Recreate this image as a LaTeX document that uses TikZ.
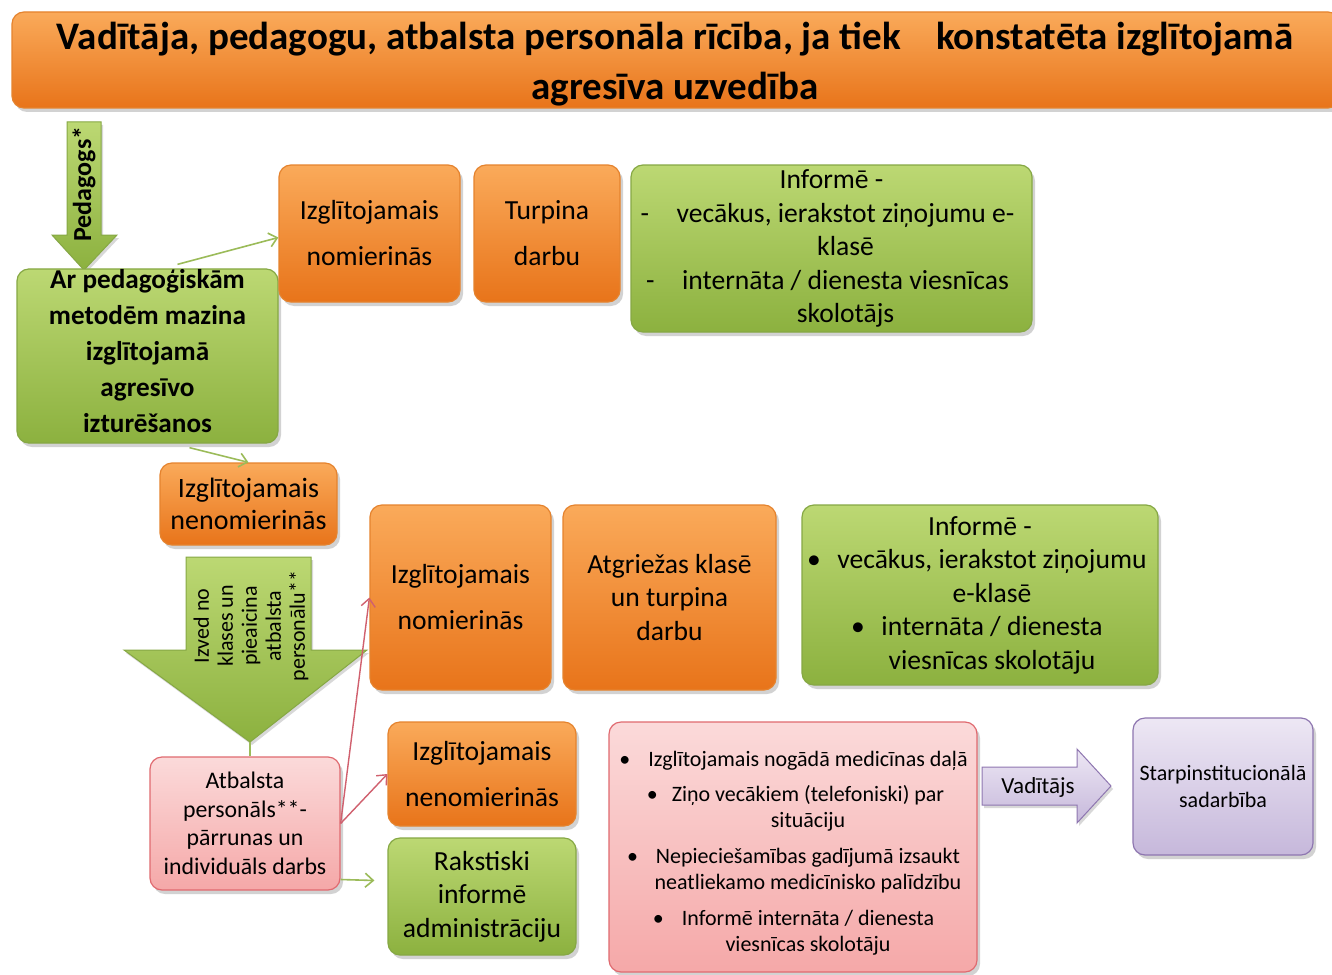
\documentclass[tikz,border=0pt]{standalone}
\usepackage{fontspec}
\setmainfont{Carlito}
\usetikzlibrary{arrows.meta,shadows,calc}
\definecolor{ortop}{HTML}{FAAA5A}
\definecolor{orbot}{HTML}{E8741A}
\definecolor{ordraw}{HTML}{E5832E}
\definecolor{grtop}{HTML}{BCD873}
\definecolor{grbot}{HTML}{8CB13F}
\definecolor{grdraw}{HTML}{86A844}
\definecolor{pktop}{HTML}{FBDADA}
\definecolor{pkbot}{HTML}{F5A8A8}
\definecolor{pkdraw}{HTML}{E06A70}
\definecolor{putop}{HTML}{EDE7F4}
\definecolor{pubot}{HTML}{C6B8DB}
\definecolor{pudraw}{HTML}{8E76B0}
\definecolor{glinkc}{HTML}{9BBB59}
\definecolor{plinkc}{HTML}{D0606E}
\tikzset{
  basebox/.style={rounded corners=6pt, align=center, inner sep=0pt, line width=0.6pt,
    drop shadow={opacity=0.35, shadow xshift=1.5pt, shadow yshift=-2pt}},
  orangebox/.style={basebox, draw=ordraw, top color=ortop, bottom color=orbot},
  greenbox/.style={basebox, draw=grdraw, top color=grtop, bottom color=grbot},
  pinkbox/.style={basebox, draw=pkdraw, top color=pktop, bottom color=pkbot},
  purplebox/.style={basebox, draw=pudraw, top color=putop, bottom color=pubot},
  greenarrow/.style={draw=grdraw, line width=0.5pt, top color=grtop, bottom color=grbot,
    drop shadow={opacity=0.3, shadow xshift=1pt, shadow yshift=-1.5pt}},
  purplearrow/.style={draw=pudraw, line width=0.5pt, top color=putop, bottom color=pubot,
    drop shadow={opacity=0.3, shadow xshift=1pt, shadow yshift=-1.5pt}},
  glink/.style={draw=glinkc, line width=0.8pt, -{Straight Barb[length=4pt,width=7pt]}},
  glinkplain/.style={draw=glinkc, line width=0.8pt},
  plink/.style={draw=plinkc, line width=0.7pt, -{Straight Barb[length=4pt,width=7pt]}},
  fbig/.style={font=\fontsize{13.8}{23}\selectfont},
  fmid/.style={font=\fontsize{13.8}{16.75}\selectfont},
  fsmall/.style={font=\fontsize{11}{13}\selectfont},
}
\begin{document}
\begin{tikzpicture}[x=0.5pt,y=-0.5pt]
\useasboundingbox (0,0) rectangle (1332,974);
\fill[white] (0,0) rectangle (1332,974);
\clip (0,0) rectangle (1332,974);

% title
\node[orangebox, minimum width=664pt, minimum height=48pt] (title) at (676,60) {};
\node[align=center, inner sep=0pt, font=\fontsize{19.5}{25}\selectfont\bfseries] (titletext) at (675,64)
  {Vadītāja, pedagogu, atbalsta personāla rīcība, ja tiek\hspace{0.9em}konstatēta izglītojamā\\agresīva uzvedība};

% Pedagogs arrow
\path[greenarrow] (67,122) -- (101,122) -- (101,235) -- (117,235) -- (84,270) -- (52,235) -- (67,235) -- cycle;
\node[rotate=90, font=\fontsize{13}{15}\selectfont\bfseries] (pedtxt) at (84,184) {Pedagogs*};

% green main box
\node[greenbox, minimum width=130.5pt, minimum height=84pt,
  font=\fontsize{13.6}{18}\selectfont\bfseries] (gbox) at (147.5,356)
  {Ar pedagoģiskām\\metodēm mazina\\izglītojamā\\agresīvo\\izturēšanos\\[-12.5pt]\mbox{}};

% top row
\node[orangebox, fbig, minimum width=90.5pt, minimum height=68.5pt] (o1) at (369.5,233.5) {Izglītojamais\\nomierinās};
\node[orangebox, fbig, minimum width=73pt, minimum height=68.5pt] (t1) at (547,233.5) {Turpina\\darbu};
\node[greenbox, fmid, minimum width=200.5pt, minimum height=83.5pt] (i1) at (831.5,248.5)
  {Informē -\\
   \hspace*{14pt}\llap{-\hspace{1em}}vecākus, ierakstot ziņojumu e-\\
   \hspace*{14pt}klasē\\
   \hspace*{14pt}\llap{-\hspace{1em}}internāta / dienesta viesnīcas\\
   \hspace*{14pt}skolotājs};

% nenomierinas
\node[orangebox, font=\fontsize{14}{16}\selectfont, minimum width=88.5pt, minimum height=41pt] (o2) at (248.5,504) {Izglītojamais\\nenomierinās};

% big arrow
\path[greenarrow] (186,557) -- (311,557) -- (311,650) -- (367,650) -- (250,742) -- (124,650) -- (186,650) -- cycle;
\coordinate (tip) at (250,742);
\node[rotate=90, align=center, font=\fontsize{11}{12}\selectfont] (bigtxt) at (251,626)
  {Izved no\\klases un\\pieaicina\\atbalsta\\personālu**};

% middle row
\node[orangebox, fbig, minimum width=90.5pt, minimum height=92.5pt] (o3) at (460.5,597.5) {Izglītojamais\\nomierinās};
\node[orangebox, fmid, minimum width=106.5pt, minimum height=92.5pt] (o5) at (669.5,597.5) {Atgriežas klasē\\un turpina\\darbu};
\node[greenbox, fmid, minimum width=178pt, minimum height=90pt] (i2) at (980,595)
  {Informē -\\
   \hspace*{12pt}\llap{•\hspace{0.6em}}vecākus, ierakstot ziņojumu\\
   \hspace*{12pt}e-klasē\\
   \hspace*{12pt}\llap{•\hspace{0.6em}}internāta / dienesta\\
   \hspace*{12pt}viesnīcas skolotāju};

% support staff box
\node[pinkbox, font=\fontsize{11.9}{14.25}\selectfont, minimum width=95pt, minimum height=66.5pt] (pb) at (245,823.5)
  {Atbalsta\\personāls**-\\pārrunas un\\individuāls darbs};

% bottom middle
\node[orangebox, fbig, minimum width=94pt, minimum height=52pt] (o4) at (482,774) {Izglītojamais\\nenomierinās};
\node[greenbox, fmid, minimum width=94pt, minimum height=58.5pt] (g3) at (482,896.5) {Rakstiski\\informē\\administrāciju};

% pink big box
\node[pinkbox, minimum width=184pt, minimum height=125pt] (pk) at (793,847) {};
\node[fsmall, align=center, inner sep=0pt] (pktext) at (808,853)
  {\llap{•\hspace{9pt}}Izglītojamais nogādā medicīnas daļā\\[4.5pt]
   \llap{•\hspace{7pt}}Ziņo vecākiem (telefoniski) par\\
   situāciju\\[5pt]
   \llap{•\hspace{9pt}}Nepieciešamības gadījumā izsaukt\\
   neatliekamo medicīnisko palīdzību\\[5pt]
   \llap{•\hspace{9pt}}Informē internāta / dienesta\\
   viesnīcas skolotāju};

% Vaditajs arrow
\path[purplearrow] (982,767) -- (1077,767) -- (1077,749) -- (1111,786) -- (1077,823) -- (1077,805) -- (982,805) -- cycle;
\node[font=\fontsize{11.5}{13}\selectfont] (vadtxt) at (1038,787) {Vadītājs};

% purple box
\node[purplebox, font=\fontsize{11}{13.5}\selectfont, minimum width=90pt, minimum height=68.5pt] (pu) at (1223,786.5)
  {Starpinstitucionālā\\sadarbība};

% connectors
\draw[glink] ([xshift=15pt,yshift=2pt]gbox.north) -- ([yshift=-2pt]o1.west);
\draw[glink] ([xshift=21pt,yshift=-2pt]gbox.south) -- (o2.north);
\draw[glinkplain] (tip) -- (tip |- pb.north);
\draw[plink] (pb.east) -- (o3.west);
\draw[plink] (pb.east) -- (o4.west);
\draw[glink] ([yshift=-28pt]pb.east) -- ([xshift=-6.5pt,yshift=8pt]g3.west);
\end{tikzpicture}
\end{document}
